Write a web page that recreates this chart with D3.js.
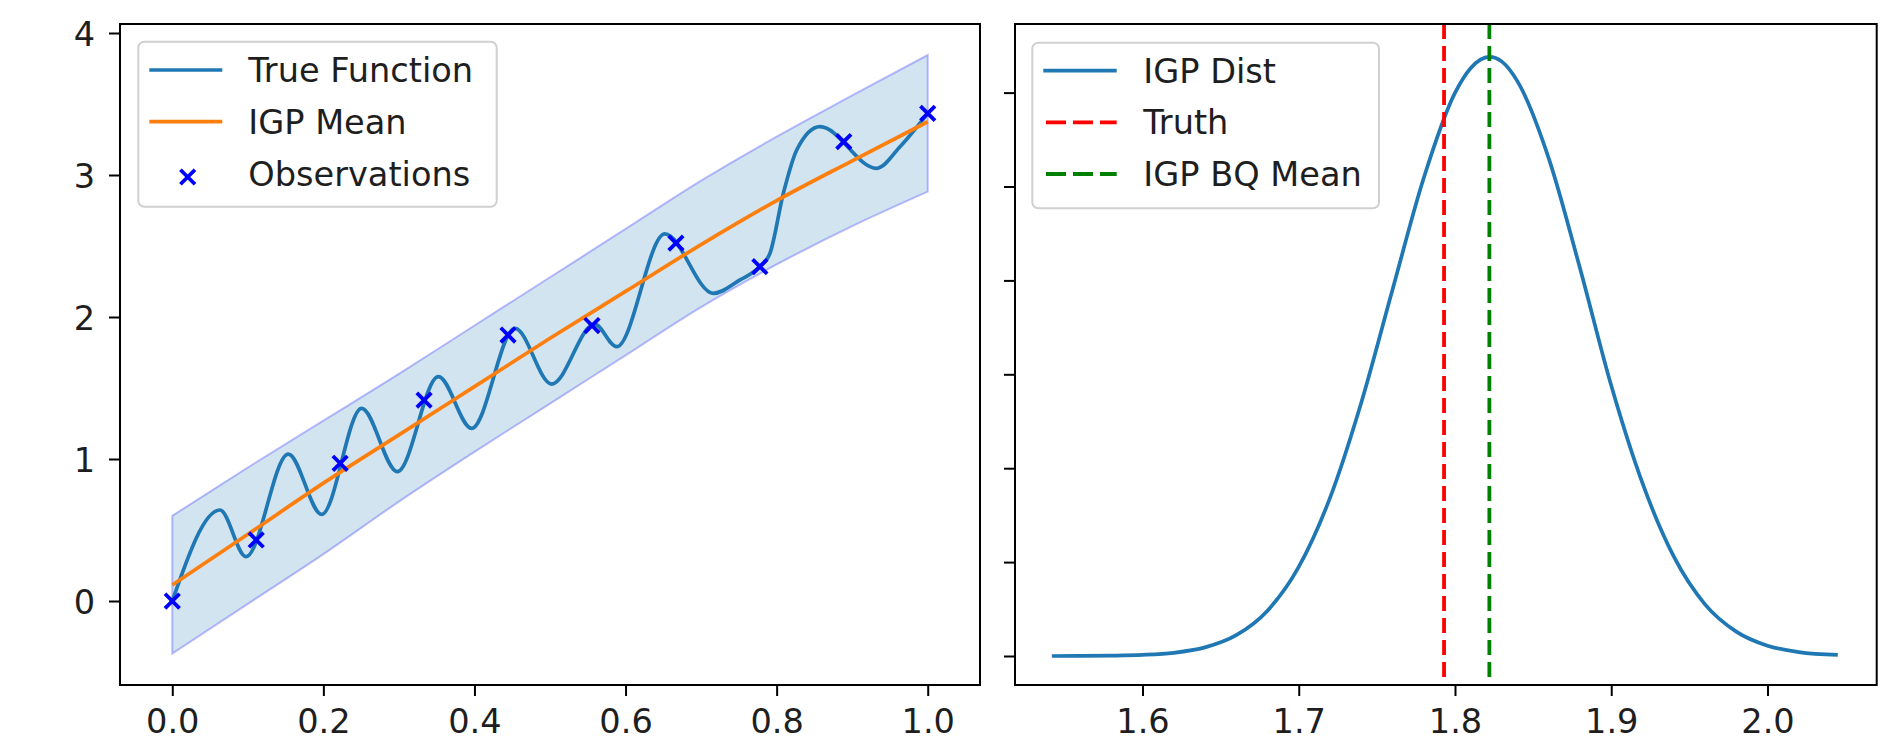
<!DOCTYPE html>
<html><head><meta charset="utf-8">
<script src="https://cdn.jsdelivr.net/npm/d3@7"></script>
<style>
body{margin:0;background:#fff}
svg{display:block;background:#fff}
text{font-family:"DejaVu Sans",sans-serif;fill:#1e1e1e}
</style>
</head><body>
<svg id="chart" width="1902" height="742"></svg>
<script>
// ---------- Left panel data ----------
// true function: start, local extrema read from the picture, and a few points on the flat/steep stretch near 0.75-0.83
const trueX = [0, 0.0631, 0.0976, 0.1536, 0.1978, 0.2507, 0.2979, 0.3523, 0.3963, 0.4537, 0.5022, 0.559, 0.5882, 0.652, 0.7162, 0.7515, 0.7778, 0.7912, 0.8089, 0.8266, 0.8574, 0.9325, 0.9633, 1.0];
const trueY = [0.0, 0.641, 0.312, 1.035, 0.61, 1.357, 0.911, 1.58, 1.216, 1.92, 1.528, 1.95, 1.791, 2.585, 2.167, 2.261, 2.355, 2.449, 2.871, 3.176, 3.34, 3.047, 3.199, 3.434];

const gridX  = [0, 0.1, 0.2, 0.3, 0.4, 0.5, 0.6, 0.7, 0.8, 0.9, 1.0];
const meanY  = [0.113, 0.47, 0.83, 1.17, 1.51, 1.85, 2.18, 2.51, 2.82, 3.10, 3.375];
const upperY = [0.60, 0.94, 1.27, 1.60, 1.94, 2.28, 2.62, 2.96, 3.27, 3.56, 3.845];
const lowerY = [-0.37, -0.02, 0.33, 0.70, 1.05, 1.39, 1.73, 2.07, 2.37, 2.64, 2.883];

const obsX = [0, 0.1111, 0.2222, 0.3333, 0.4444, 0.5556, 0.6667, 0.7778, 0.8889, 1.0];
const obsY = [0, 0.43, 0.97, 1.415, 1.873, 1.94, 2.52, 2.355, 3.235, 3.434];

const leftXTicks = [0.0, 0.2, 0.4, 0.6, 0.8, 1.0];
const leftYTicks = [0, 1, 2, 3, 4];
const leftLegend = ["True Function", "IGP Mean", "Observations"];

// ---------- Right panel data ----------
const distX = [1.542, 1.56, 1.58, 1.60, 1.62, 1.64, 1.66, 1.68, 1.70, 1.72, 1.74, 1.76, 1.78, 1.80, 1.81, 1.822, 1.83, 1.84, 1.86, 1.88, 1.90, 1.92, 1.94, 1.96, 1.98, 2.00, 2.02, 2.045];
const distY = [0.0, 0.001, 0.004, 0.012, 0.034, 0.092, 0.222, 0.483, 0.949, 1.684, 2.698, 3.901, 5.091, 5.997, 6.26, 6.38, 6.33, 6.12, 5.30, 4.13, 2.88, 1.84, 1.06, 0.55, 0.26, 0.11, 0.042, 0.011];
const truthValue = 1.793;
const bqMeanValue = 1.822;

const rightXTicks = [1.6, 1.7, 1.8, 1.9, 2.0];
const rightYTicks = [0, 1, 2, 3, 4, 5, 6];
const rightLegend = ["IGP Dist", "Truth", "IGP BQ Mean"];

// ---------- Drawing ----------
const svg = d3.select("#chart");
const FS = 33.6;
const LW = 3.7;
const yTop = 24, yBot = 685;
const L = {x0: 120, x1: 980};
const R = {x0: 1015, x1: 1876.7};

const xL = d3.scaleLinear().domain([-0.0692, 1.0692]).range([L.x0, L.x1]);
const yL = d3.scaleLinear().domain([-0.5915, 4.0634]).range([yBot, yTop]);
const xR = d3.scaleLinear().domain([1.5184, 2.0699]).range([R.x0, R.x1]);
const yR = d3.scaleLinear().domain([-0.3088, 6.7306]).range([yBot, yTop]);

const C0 = "#1f77b4", C1 = "#ff7f0e";

const defs = svg.append("defs");
defs.append("clipPath").attr("id", "clipL").append("rect")
  .attr("x", L.x0).attr("y", yTop).attr("width", L.x1 - L.x0).attr("height", yBot - yTop);
defs.append("clipPath").attr("id", "clipR").append("rect")
  .attr("x", R.x0).attr("y", yTop).attr("width", R.x1 - R.x0).attr("height", yBot - yTop);

function styleAxis(g) {
  g.select(".domain").remove();
  g.selectAll(".tick line").attr("stroke", "#000").attr("stroke-width", 2);
  g.selectAll(".tick text").attr("font-size", FS).attr("font-family", "DejaVu Sans").attr("fill", "#1e1e1e");
}

// ---- Left panel ----
const gL = svg.append("g").attr("clip-path", "url(#clipL)");
const band = gridX.map((x, i) => ({x, lo: lowerY[i], hi: upperY[i]}));
gL.append("path").datum(band)
  .attr("d", d3.area().x(d => xL(d.x)).y0(d => yL(d.lo)).y1(d => yL(d.hi)).curve(d3.curveMonotoneX))
  .attr("fill", "rgba(31,119,180,0.2)")
  .attr("stroke", "rgba(0,0,255,0.25)").attr("stroke-width", 2);

gL.append("path").datum(trueX.map((x, i) => [x, trueY[i]]))
  .attr("d", d3.line().x(d => xL(d[0])).y(d => yL(d[1])).curve(d3.curveMonotoneX))
  .attr("fill", "none").attr("stroke", C0).attr("stroke-width", LW);

gL.append("path").datum(gridX.map((x, i) => [x, meanY[i]]))
  .attr("d", d3.line().x(d => xL(d[0])).y(d => yL(d[1])).curve(d3.curveMonotoneX))
  .attr("fill", "none").attr("stroke", C1).attr("stroke-width", LW);

const cross = d3.symbol().type(d3.symbolTimes).size(140);
gL.selectAll(".obs").data(obsX.map((x, i) => [x, obsY[i]])).join("path")
  .attr("transform", d => `translate(${xL(d[0])},${yL(d[1])})`)
  .attr("d", cross).attr("fill", "none").attr("stroke", "#0000ff").attr("stroke-width", 3.8);

svg.append("g").attr("transform", `translate(0,${yBot})`)
  .call(d3.axisBottom(xL).tickValues(leftXTicks).tickFormat(d3.format(".1f")).tickSize(11).tickPadding(13.4))
  .call(styleAxis);
svg.append("g").attr("transform", `translate(${L.x0},0)`)
  .call(d3.axisLeft(yL).tickValues(leftYTicks).tickFormat(d3.format("d")).tickSize(11).tickPadding(14))
  .call(styleAxis)
  .selectAll(".tick text").attr("dy", "0.36em");

svg.append("rect").attr("x", L.x0).attr("y", yTop).attr("width", L.x1 - L.x0).attr("height", yBot - yTop)
  .attr("fill", "none").attr("stroke", "#000").attr("stroke-width", 2);

// Left legend
const lg = svg.append("g");
lg.append("rect").attr("x", 138.3).attr("y", 41.7).attr("width", 358.4).attr("height", 165)
  .attr("rx", 6).attr("fill", "rgba(255,255,255,0.8)").attr("stroke", "#d0d0d0").attr("stroke-width", 2);
const lRows = [70, 121.7, 174];
lg.append("line").attr("x1", 149.3).attr("x2", 222.3).attr("y1", lRows[0]).attr("y2", lRows[0])
  .attr("stroke", C0).attr("stroke-width", LW);
lg.append("line").attr("x1", 149.3).attr("x2", 222.3).attr("y1", lRows[1]).attr("y2", lRows[1])
  .attr("stroke", C1).attr("stroke-width", LW);
lg.append("path").attr("transform", `translate(187.7,${lRows[2] + 3})`).attr("d", cross)
  .attr("fill", "none").attr("stroke", "#0000ff").attr("stroke-width", 3.8);
leftLegend.forEach((t, i) => {
  lg.append("text").attr("x", 248.3).attr("y", lRows[i] + 12).attr("font-size", FS).text(t);
});

// ---- Right panel ----
const gR = svg.append("g").attr("clip-path", "url(#clipR)");
gR.append("path").datum(distX.map((x, i) => [x, distY[i]]))
  .attr("d", d3.line().x(d => xR(d[0])).y(d => yR(d[1])).curve(d3.curveMonotoneX))
  .attr("fill", "none").attr("stroke", C0).attr("stroke-width", LW);
gR.append("line").attr("x1", xR(truthValue)).attr("x2", xR(truthValue)).attr("y1", yTop).attr("y2", yBot)
  .attr("stroke", "#ff0000").attr("stroke-width", 3.8).attr("stroke-dasharray", "15,7");
gR.append("line").attr("x1", xR(bqMeanValue)).attr("x2", xR(bqMeanValue)).attr("y1", yTop).attr("y2", yBot)
  .attr("stroke", "#008000").attr("stroke-width", 3.8).attr("stroke-dasharray", "15,7");

svg.append("g").attr("transform", `translate(0,${yBot})`)
  .call(d3.axisBottom(xR).tickValues(rightXTicks).tickFormat(d3.format(".1f")).tickSize(11).tickPadding(13.4))
  .call(styleAxis);
svg.append("g").attr("transform", `translate(${R.x0},0)`)
  .call(d3.axisLeft(yR).tickValues(rightYTicks).tickFormat("").tickSize(11))
  .call(styleAxis);

svg.append("rect").attr("x", R.x0).attr("y", yTop).attr("width", R.x1 - R.x0).attr("height", yBot - yTop)
  .attr("fill", "none").attr("stroke", "#000").attr("stroke-width", 2);

// Right legend
const rg = svg.append("g");
rg.append("rect").attr("x", 1032.3).attr("y", 42.7).attr("width", 346.7).attr("height", 165.6)
  .attr("rx", 6).attr("fill", "rgba(255,255,255,0.8)").attr("stroke", "#d0d0d0").attr("stroke-width", 2);
const rRows = [70.7, 122.3, 174];
rg.append("line").attr("x1", 1043.3).attr("x2", 1116.7).attr("y1", rRows[0]).attr("y2", rRows[0])
  .attr("stroke", C0).attr("stroke-width", LW);
rg.append("line").attr("x1", 1046).attr("x2", 1116.7).attr("y1", rRows[1]).attr("y2", rRows[1])
  .attr("stroke", "#ff0000").attr("stroke-width", 3.8).attr("stroke-dasharray", "20,7");
rg.append("line").attr("x1", 1046).attr("x2", 1116.7).attr("y1", rRows[2]).attr("y2", rRows[2])
  .attr("stroke", "#008000").attr("stroke-width", 3.8).attr("stroke-dasharray", "20,7");
rightLegend.forEach((t, i) => {
  rg.append("text").attr("x", 1143.3).attr("y", rRows[i] + 12).attr("font-size", FS).text(t);
});
</script>
</body></html>
